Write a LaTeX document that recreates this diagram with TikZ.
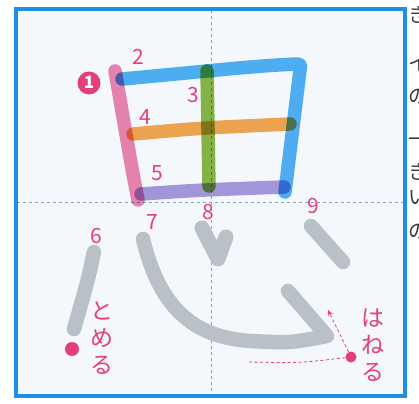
\documentclass[tikz,border=0pt]{standalone}
\usepackage{fontspec}
\newfontfamily\jp{Noto Sans CJK JP}
\usetikzlibrary{arrows.meta}
\definecolor{boxblue}{HTML}{1E8FE6}
\definecolor{guide}{HTML}{6FA8C8}
\definecolor{inner}{HTML}{F4F8FC}
\definecolor{sPink}{HTML}{EE86B0}
\definecolor{sBlue}{HTML}{52B2F3}
\definecolor{sGreen}{HTML}{8CB848}
\definecolor{sOrange}{HTML}{F6A850}
\definecolor{sPurple}{HTML}{A89BDC}
\definecolor{sGray}{HTML}{BAC1C6}
\definecolor{lab}{HTML}{E43F7C}
\definecolor{side}{HTML}{3A3A3A}
\tikzset{
  strk/.style={line width=13.5pt, line cap=round, line join=round},
  gstrk/.style={strk, draw=sGray, line width=14.5pt},
  num/.style={text=lab, font=\jp\fontsize{21}{21}\selectfont, inner sep=0pt},
  kana/.style={text=lab, font=\jp\fontsize{23}{23}\selectfont, inner sep=0pt},
  sidetxt/.style={text=side, font=\jp\fontsize{20}{20}\selectfont, inner sep=0pt, anchor=west},
  pdot/.style={circle, fill=lab, inner sep=0pt},
  guideline/.style={guide, line width=0.8pt, dash pattern=on 3pt off 3pt},
}
\begin{document}
\begin{tikzpicture}[x=1pt,y=-1pt]
\useasboundingbox (0,0) rectangle (419,403);
\fill[white] (0,0) rectangle (419,403);
% box
\fill[inner] (16,9) rectangle (405,396);
\draw[guideline] (211,10) -- (211,395);
\draw[guideline] (17,202) -- (404,202);
% upper strokes
\begin{scope}[blend mode=multiply]
\draw[strk, draw=sPink] (115,71) .. controls (122,110) and (130,160) .. (138,200);
\draw[strk, draw=sBlue] (122,79) .. controls (200,72) and (250,66) .. (297,64) .. controls (301,64) and (301,66) .. (300,70) -- (285,192);
\draw[strk, draw=sGreen] (207,71) -- (209,186);
\draw[strk, draw=sOrange] (133,134) .. controls (200,128) .. (290,124);
\draw[strk, draw=sPurple] (141,194) .. controls (200,190) .. (284,187);
\end{scope}
% lower strokes
\draw[gstrk] (94,252) .. controls (88,280) .. (74,329);
\draw[gstrk] (143,239) .. controls (160,310) and (195,337) .. (250,341) .. controls (290,343) .. (327,336) -- (288,291);
\draw[gstrk, line width=15pt] (202,228) -- (218,259) -- (226,237);
\draw[gstrk] (311,226) -- (343,262);
% labels
\node[pdot, minimum size=23pt] (c1) at (89,83) {};
\node[text=white, font=\jp\bfseries\fontsize{17}{17}\selectfont, inner sep=0pt] (c1t) at (89,82.5) {1};
\node[num] (n2) at (138,57) {2};
\node[num] (n3) at (193,95) {3};
\node[num] (n4) at (145,117) {4};
\node[num] (n5) at (157,173) {5};
\node[num] (n6) at (96,236) {6};
\node[num] (n7) at (152,222) {7};
\node[num] (n8) at (208,212) {8};
\node[num] (n9) at (313,206) {9};
\node[kana] (t1) at (102,311) {と};
\node[kana] (t2) at (102,338) {め};
\node[kana] (t3) at (102,365) {る};
\node[kana] (h1) at (373,318) {は};
\node[kana] (h2) at (373,345) {ね};
\node[kana] (h3) at (373,372) {る};
\node[pdot, minimum size=14pt] (tdot) at (72,349) {};
\node[pdot, minimum size=11pt] (hdot) at (351,357) {};
\coordinate (dstart) at (249,362);
\coordinate (atip) at (328,310);
\draw[lab, line width=0.8pt, dash pattern=on 3pt off 2.5pt] (dstart) .. controls (300,363) .. (hdot);
\draw[lab, line width=0.8pt, dash pattern=on 3pt off 2.5pt, -{Stealth[length=6pt,width=5pt]}] (hdot) -- (atip);
% frame
\draw[boxblue, line width=3.2pt] (16,9) rectangle (405,396);
% cut-off side text
\begin{scope}
\clip (407.5,0) rectangle (419,403);
\node[sidetxt] (s1) at (408,15) {き};
\node[sidetxt] (s2) at (408,63) {イ};
\node[sidetxt] (s3) at (408,97) {の};
\node[sidetxt] (s4) at (408,142) {一};
\node[sidetxt] (s5) at (408,172) {き};
\node[sidetxt] (s6) at (408,198) {い};
\node[sidetxt] (s7) at (408,232) {の};
\end{scope}
\end{tikzpicture}
\end{document}
